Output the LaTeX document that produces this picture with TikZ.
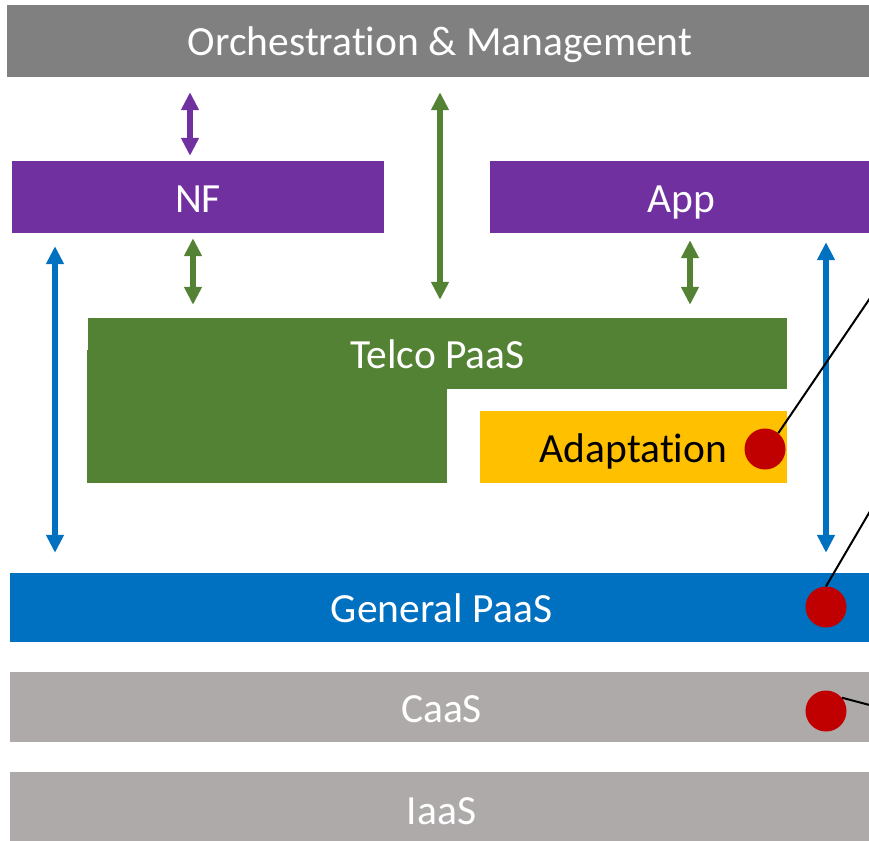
\documentclass[tikz,border=0pt]{standalone}
\usepackage{fontspec}
\setmainfont{Carlito}[Ligatures={NoCommon}]
\usetikzlibrary{arrows.meta}
\definecolor{orchgray}{HTML}{808080}
\definecolor{nfpurple}{HTML}{7030A0}
\definecolor{telcogreen}{HTML}{548235}
\definecolor{adaptyellow}{HTML}{FFC000}
\definecolor{paasblue}{HTML}{0070C0}
\definecolor{layergray}{HTML}{AEAAAA}
\definecolor{dotred}{HTML}{C00000}
\tikzset{
  layer/.style={draw=none, rectangle, inner sep=0pt, text=white,
    font=\fontsize{41.5}{48}\selectfont, text height=30pt, text depth=0pt},
  twoway/.style={{Triangle[width=17pt,length=18pt]}-{Triangle[width=17pt,length=18pt]}, line width=5.5pt},
  marker/.style={circle, fill=dotred, draw=none, minimum size=41pt, inner sep=0pt},
  lead/.style={line width=2pt, black}
}
\begin{document}
\begin{tikzpicture}[x=1pt, y=-1pt]
\useasboundingbox (0,0) rectangle (869,840);
\clip (0,0) rectangle (869,840);

% layers
\node[layer, fill=orchgray, minimum width=866pt, minimum height=72pt] (orch) at (440,41) {Orchestration \& Management};
\node[layer, fill=nfpurple, minimum width=372pt, minimum height=72pt] (nf) at (198,197) {NF};
\node[layer, fill=nfpurple, minimum width=383pt, minimum height=72pt] (app) at (681.5,197) {App};
\node[layer, fill=telcogreen, minimum width=360pt, minimum height=133pt] (telcolow) at (267,416.5) {};
\node[layer, fill=telcogreen, minimum width=699pt, minimum height=71pt] (telco) at (437.5,353.5) {Telco PaaS};
\node[layer, fill=adaptyellow, text=black, minimum width=307pt, minimum height=72pt] (adapt) at (633.5,447) {Adaptation};
\node[layer, fill=paasblue, minimum width=863pt, minimum height=69pt] (gpaas) at (441.5,607.5) {General PaaS};
\node[layer, fill=layergray, minimum width=863pt, minimum height=70pt] (caas) at (441.5,707) {CaaS};
\node[layer, fill=layergray, minimum width=863pt, minimum height=74pt] (iaas) at (441.5,809) {IaaS};

% arrow columns
\coordinate (cpurple) at (190,0);
\coordinate (cmid) at (440,0);
\coordinate (cnf) at (193,0);
\coordinate (capp) at (690,0);
\coordinate (cleft) at (55,0);
\coordinate (cright) at (826,0);

\draw[twoway, nfpurple, shorten <=15pt, shorten >=5pt] (orch.south -| cpurple) -- (nf.north -| cpurple);
\draw[twoway, telcogreen, shorten <=15pt, shorten >=18pt] (orch.south -| cmid) -- (telco.north -| cmid);
\draw[twoway, telcogreen, shorten <=5pt, shorten >=13pt] (nf.south -| cnf) -- (telco.north -| cnf);
\draw[twoway, telcogreen, shorten <=7pt, shorten >=13pt] (app.south -| capp) -- (telco.north -| capp);
\draw[twoway, paasblue, shorten <=13pt, shorten >=20pt] (nf.south -| cleft) -- (gpaas.north -| cleft);
\draw[twoway, paasblue, shorten <=9pt, shorten >=20pt] (app.south -| cright) -- (gpaas.north -| cright);

% markers and their leader lines
\node[marker] (d1) at (765,449) {};
\node[marker] (d2) at (826,607) {};
\node[marker] (d3) at (826,711) {};
\coordinate (e1) at (900,254);
\coordinate (e2) at (900,460);
\coordinate (e3) at (900,713);
\draw[lead] (d1.50) -- (e1);
\draw[lead] (d2.north) -- (e2);
\draw[lead] (d3.40) -- (e3);
\end{tikzpicture}
\end{document}
